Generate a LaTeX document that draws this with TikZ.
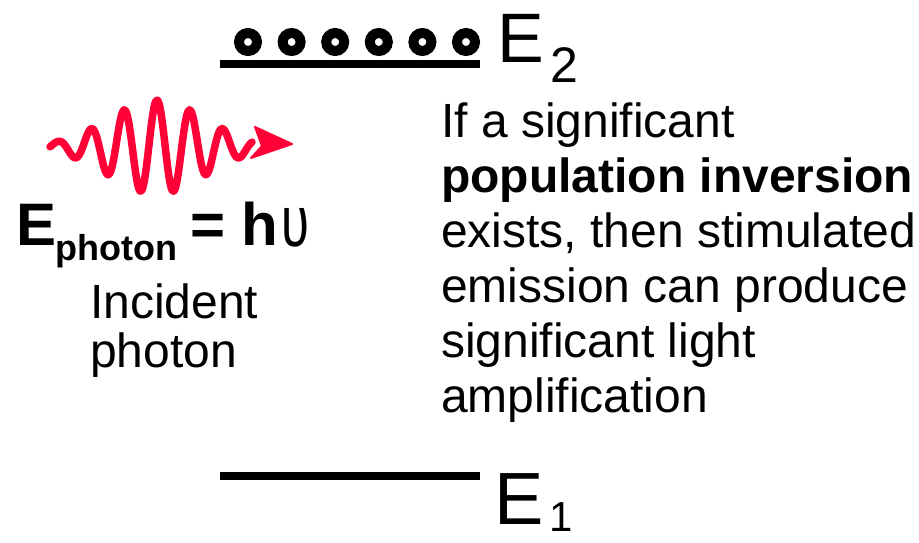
\documentclass[tikz,border=0pt]{standalone}
\usepackage{fontspec}
\setmainfont{Liberation Sans}
\definecolor{wavered}{RGB}{255,0,55}
\begin{document}
\begin{tikzpicture}[x=1pt,y=-1pt,
  txt/.style={inner sep=0pt, anchor=base west, font=\fontsize{48}{55}\selectfont},
  level/.style={line width=7.5pt},
  atom/.style={circle, draw, line width=10pt, minimum size=18pt, inner sep=0pt},
  wave/.style={wavered, line width=7.5pt, line cap=round, line join=round}]
\useasboundingbox (0,0) rectangle (919,543);
% upper level with atoms
\coordinate (e2l) at (220,64);
\coordinate (e2r) at (480,64);
\draw[level] (e2l) -- (e2r);
\foreach \i in {0,...,5}
  \node[atom] (a\i) at ({248+43.6*\i},42) {};
\node[inner sep=0pt, anchor=base west, font=\fontsize{70}{70}\selectfont] (E2) at (497,63) {E};
\node[inner sep=0pt, anchor=base west, font=\fontsize{50}{50}\selectfont] (E2s) at (550,83) {2};
% lower level
\coordinate (e1l) at (220,476);
\coordinate (e1r) at (480,476);
\draw[level] (e1l) -- (e1r);
\node[inner sep=0pt, anchor=base west, text depth=0pt, font=\fontsize{74}{74}\selectfont] (E1) at (494,524) {E};
\node[inner sep=0pt, anchor=base west, text depth=0pt, font=\fontsize{42}{42}\selectfont] (E1s) at (549,531) {1};
% photon wave
\draw[wave] plot[smooth, samples=140, domain=50:252]
  (\x, {147 - 47*exp(-((\x-157)/68)^2)*cos(10.909*(\x-157))});
\coordinate (tipA) at (255,127);
\coordinate (tip) at (292,144);
\coordinate (tipB) at (251,158);
\fill[wavered, draw=wavered, line width=2pt, line join=round] (tipA) -- (tip) -- (tipB) -- (262,146) -- cycle;
% photon energy
\node[inner sep=0pt, anchor=base west, font=\bfseries\fontsize{60}{60}\selectfont] (Eph) at (16,245) {E};
\node[inner sep=0pt, anchor=base west, font=\bfseries\fontsize{36}{36}\selectfont] (Ephs) at (55,260) {photon};
\node[inner sep=0pt, anchor=base west, font=\bfseries\fontsize{60}{60}\selectfont] (eqh) at (190,245) {= h};
\node[inner sep=0pt, anchor=base west, font=\fontsize{60}{60}\selectfont] (nu) at (281,246) {\scalebox{0.85}[1.2]{υ}};
\node[txt] (inc1) at (90,318) {Incident};
\node[txt] (inc2) at (90,367) {photon};
% explanation
\node[txt] (t1) at (441,137) {If a significant};
\node[txt] (t2) at (441,192) {\bfseries population inversion};
\node[txt] (t3) at (441,247) {exists, then stimulated};
\node[txt] (t4) at (441,302) {emission can produce};
\node[txt] (t5) at (441,357) {significant light};
\node[txt] (t6) at (441,412) {amplification};
\end{tikzpicture}
\end{document}
